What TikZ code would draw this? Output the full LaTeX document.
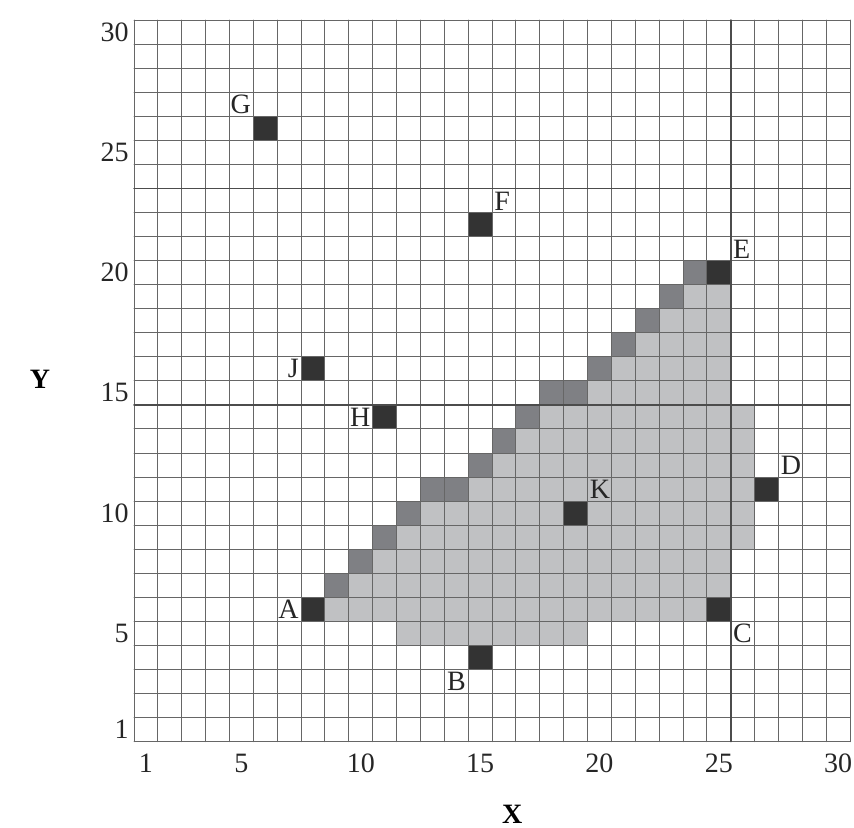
\documentclass[tikz,border=0pt]{standalone}
\usepackage{fontspec}
\setmainfont{Liberation Serif}
\definecolor{lightcell}{HTML}{C0C1C3}
\definecolor{darkcell}{HTML}{7F8084}
\definecolor{blackcell}{HTML}{333333}
\definecolor{gridline}{HTML}{666666}

\begin{document}
\begin{tikzpicture}[x=11.93pt,y=12.02pt,line cap=round,line join=round,
    every node/.style={inner sep=1pt,font=\fontsize{14}{16}\selectfont},
    ticklab/.style={text=black!85},
    ptlab/.style={text=black!85}]
  \useasboundingbox (-5.614,-3.579) rectangle (30.163,30.836);
  % shaded region, light cells row by row
  \foreach \r/\a/\b in {5/12/19,6/9/24,7/10/25,8/11/25,9/12/26,10/13/26,11/15/26,
      12/16/26,13/17/26,14/18/26,15/20/25,16/21/25,17/22/25,18/23/25,19/24/25}{
    \fill[lightcell] (\a-1,\r-1) rectangle (\b,\r);
  }
  % edge cells
  \foreach \c/\r in {9/7,10/8,11/9,12/10,13/11,14/11,15/12,16/13,17/14,18/15,
      19/15,20/16,21/17,22/18,23/19,24/20}{
    \fill[darkcell] (\c-1,\r-1) rectangle ++(1,1);
  }
  % points
  \foreach \c/\r in {8/6,15/4,25/6,27/11,25/20,15/22,6/26,11/14,8/16,19/10}{
    \fill[blackcell] (\c-1,\r-1) rectangle ++(1,1);
  }
  \foreach \k in {0,...,30}{
    \draw[gridline,line width=0.5pt] (\k,0) -- (\k,30);
    \draw[gridline,line width=0.5pt] (0,\k) -- (30,\k);
  }
  \draw[black!70,line width=0.75pt] (25,0) -- (25,30);
  \draw[black!70,line width=0.75pt] (0,14) -- (30,14);
  \draw[black!70,line width=0.75pt] (0,23) -- (30,23);
  % axis numbers
  \foreach \v [count=\i] in {1,5,10,15,20,25,30}{
    \node[ticklab,anchor=east] (ytick\i) at (-0.12,\v-0.5) {\v};
    \node[ticklab,anchor=base] (xtick\i) at (\v-0.5,-1.29) {\v};
  }
  \node[anchor=base] (ylab) at (-3.94,14.7) {\textbf{Y}};
  \node[anchor=base] (xlab) at (15.84,-3.42) {\textbf{X}};
  % point labels
  \node[ptlab,anchor=east] (labA) at (7,5.5) {A};
  \node[ptlab,anchor=north east] (labB) at (14,3) {B};
  \node[ptlab,anchor=north west] (labC) at (25,5) {C};
  \node[ptlab,anchor=south west] (labD) at (27,11) {D};
  \node[ptlab,anchor=south west] (labE) at (25,20) {E};
  \node[ptlab,anchor=south west] (labF) at (15,22) {F};
  \node[ptlab,anchor=south east] (labG) at (5,26) {G};
  \node[ptlab,anchor=east] (labH) at (10,13.5) {H};
  \node[ptlab,anchor=east] (labJ) at (7,15.5) {J};
  \node[ptlab,anchor=south west] (labK) at (19,10) {K};
\end{tikzpicture}
\end{document}
